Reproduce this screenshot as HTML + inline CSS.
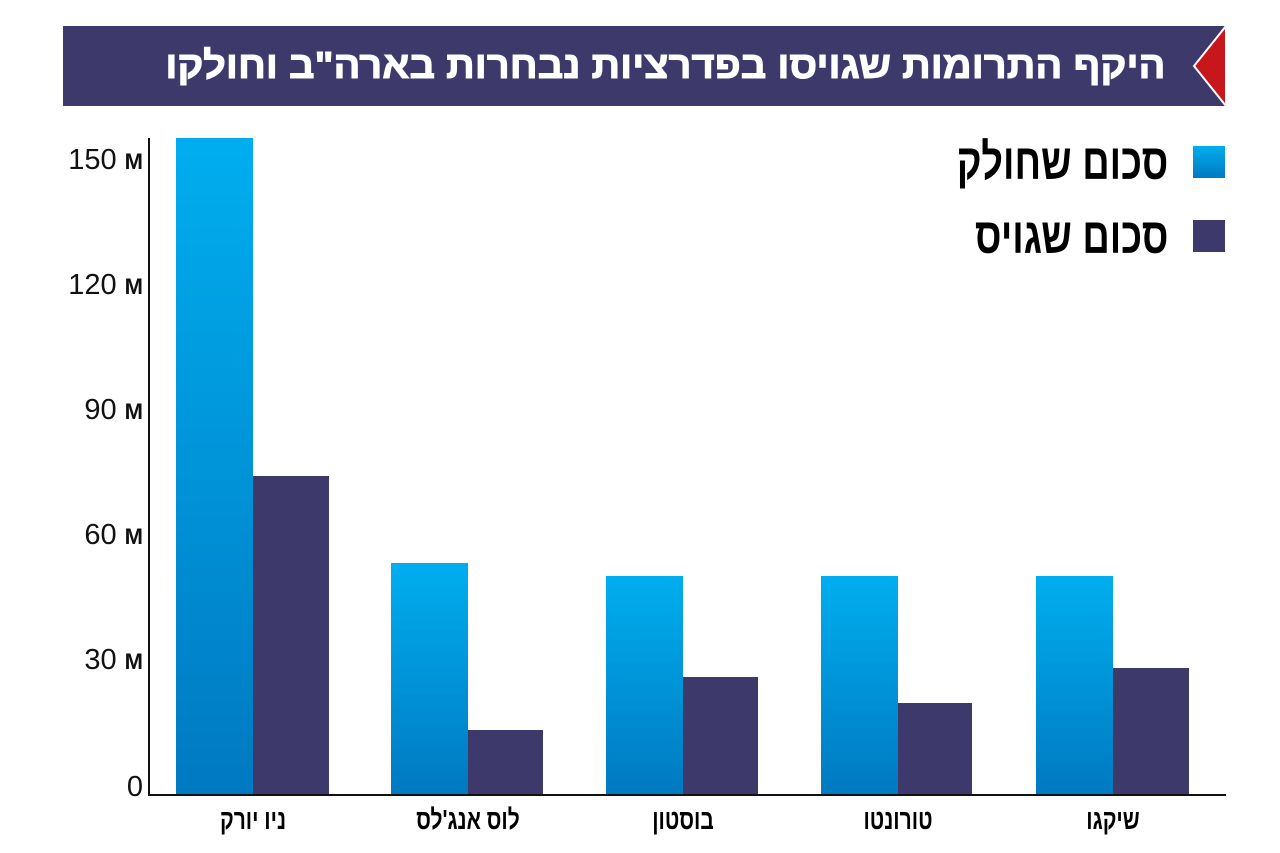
<!DOCTYPE html>
<html><head><meta charset="utf-8"><style>
body{margin:0;width:1280px;height:853px;background:#fff;position:relative;overflow:hidden;font-family:"Liberation Sans","DejaVu Sans",sans-serif}
.a{position:absolute}
.title{left:63px;top:26px;width:1163px;height:80px;background:#3d3a6b}
.tt{right:115px;top:44px;color:#fff;font-weight:bold;font-size:38px;direction:rtl;white-space:nowrap;line-height:44px;transform:scaleX(1.05);transform-origin:right;-webkit-text-stroke:1px #fff}
.b{position:absolute;background:linear-gradient(#00aeef,#0079c1)}
.d{position:absolute;background:#3d3a6b}
.yl{position:absolute;right:1137px;font-size:29px;color:#111;white-space:nowrap;line-height:30px}
.yl b{font-size:22px}
.cl{position:absolute;top:804px;font-size:28px;font-weight:bold;width:200px;text-align:center;direction:rtl;transform:scaleX(0.75);line-height:32px}
.lg{position:absolute;right:112px;font-size:50px;font-weight:bold;direction:rtl;transform:scaleX(0.76);transform-origin:right;white-space:nowrap;line-height:56px}
</style></head><body>
<div class="a title"></div>
<svg class="a" style="left:1190px;top:26px" width="40" height="80"><polygon points="36,0 36,80 4,40" fill="#c8161d" stroke="#fff" stroke-width="2"/></svg>
<div class="a tt">היקף התרומות שגויסו בפדרציות נבחרות בארה"ב וחולקו</div>
<div class="a" style="left:148px;top:138px;width:2px;height:658px;background:#111"></div>
<div class="a" style="left:148px;top:794px;width:1078px;height:2px;background:#111"></div>
<div class="yl" style="top:145px">150 <b>M</b></div>
<div class="yl" style="top:270px">120 <b>M</b></div>
<div class="yl" style="top:395px">90 <b>M</b></div>
<div class="yl" style="top:520px">60 <b>M</b></div>
<div class="yl" style="top:645px">30 <b>M</b></div>
<div class="yl" style="top:772px">0</div>
<div class="b" style="left:176px;top:138px;width:77px;height:656px"></div>
<div class="d" style="left:253px;top:476px;width:76px;height:318px"></div>
<div class="b" style="left:391px;top:563px;width:77px;height:231px"></div>
<div class="d" style="left:468px;top:730px;width:75px;height:64px"></div>
<div class="b" style="left:606px;top:576px;width:77px;height:218px"></div>
<div class="d" style="left:683px;top:677px;width:75px;height:117px"></div>
<div class="b" style="left:821px;top:576px;width:77px;height:218px"></div>
<div class="d" style="left:898px;top:703px;width:74px;height:91px"></div>
<div class="b" style="left:1036px;top:576px;width:77px;height:218px"></div>
<div class="d" style="left:1113px;top:668px;width:76px;height:126px"></div>
<div class="cl" style="left:153px">ניו יורק</div>
<div class="cl" style="left:368px">לוס אנג'לס</div>
<div class="cl" style="left:583px">בוסטון</div>
<div class="cl" style="left:798px">טורונטו</div>
<div class="cl" style="left:1013px">שיקגו</div>
<div class="b" style="left:1193px;top:146px;width:32px;height:32px"></div>
<div class="d" style="left:1193px;top:220px;width:32px;height:32px"></div>
<div class="lg" style="top:134px">סכום שחולק</div>
<div class="lg" style="top:208px">סכום שגויס</div>
</body></html>
